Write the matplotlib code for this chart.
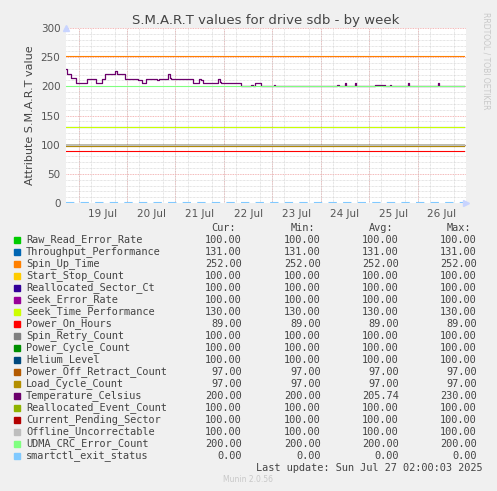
import matplotlib.pyplot as plt
import numpy as np

names = ["Raw_Read_Error_Rate", "Throughput_Performance", "Spin_Up_Time", "Start_Stop_Count",
         "Reallocated_Sector_Ct", "Seek_Error_Rate", "Seek_Time_Performance", "Power_On_Hours",
         "Spin_Retry_Count", "Power_Cycle_Count", "Helium_Level", "Power_Off_Retract_Count",
         "Load_Cycle_Count", "Temperature_Celsius", "Reallocated_Event_Count",
         "Current_Pending_Sector", "Offline_Uncorrectable", "UDMA_CRC_Error_Count",
         "smartctl_exit_status"]
colors = ["#00CC00", "#0066B3", "#FF8000", "#FFCC00", "#330099", "#990099", "#CCFF00", "#FF0000",
          "#808080", "#008F00", "#00487D", "#B35A00", "#B38F00", "#6B006B", "#8FB300",
          "#B30000", "#BEBEBE", "#80FF80", "#80C9FF"]
cur = [100, 131, 252, 100, 100, 100, 130, 89, 100, 100, 100, 97, 97, 200, 100, 100, 100, 200, 0]
mins = [100, 131, 252, 100, 100, 100, 130, 89, 100, 100, 100, 97, 97, 200, 100, 100, 100, 200, 0]
avgs = [100, 131, 252, 100, 100, 100, 130, 89, 100, 100, 100, 97, 97, 205.74, 100, 100, 100, 200, 0]
maxs = [100, 131, 252, 100, 100, 100, 130, 89, 100, 100, 100, 97, 97, 230, 100, 100, 100, 200, 0]

# temperature steps (x in image pixels -> converted to days below)
temp_px = [66, 67, 68, 71, 72, 76, 86, 87, 94, 96, 100, 102, 105, 112, 115, 117, 118, 124, 125,
           136, 138, 142, 145, 146, 156, 158, 160, 168, 169, 171, 172, 190, 194, 198, 200, 202,
           204, 218, 219, 221, 222, 240, 242, 251, 252, 254, 256, 258, 262, 274, 275, 276, 338,
           339, 341, 346, 347, 348, 356, 357, 358, 376, 377, 385, 386, 387, 391, 392, 393, 409,
           410, 411, 439, 440, 441, 466]
temp_vals = [230, 222, 222, 215, 215, 205, 205, 213, 213, 205, 205, 213, 222, 222, 226, 222, 222,
             222, 213, 213, 210, 205, 205, 213, 213, 210, 213, 213, 222, 215, 213, 213, 205, 205,
             213, 210, 205, 205, 213, 208, 205, 205, 200, 200, 203, 200, 205, 205, 200, 200, 203,
             200, 200, 203, 200, 200, 205, 200, 200, 205, 200, 200, 202, 200, 203, 200, 200, 203,
             200, 200, 205, 200, 200, 205, 200, 200]

day0 = 18.74
px_per_day = 48.7
xmax = day0 + 400 / px_per_day
temp_x = [day0 + (p - 66) / px_per_day for p in temp_px]

fig = plt.figure(figsize=(4.97, 4.91), dpi=100, facecolor="#F0F0F0")
ax = fig.add_axes([66 / 497, 1 - 203 / 491, 400 / 497, 175 / 491])
ax.set_facecolor("white")

for i, n in enumerate(names):
    if n == "Temperature_Celsius":
        ax.step(temp_x, temp_vals, where="post", color=colors[i], lw=0.9)
    elif n == "smartctl_exit_status":
        ax.plot([day0, xmax], [cur[i] + 0.8] * 2, color=colors[i], lw=1.5, ls=(0, (4, 3)))
    else:
        ax.plot([day0, xmax], [cur[i]] * 2, color=colors[i], lw=0.8)

ax.set_xlim(day0, xmax)
ax.set_ylim(0, 300)
ax.set_yticks(np.arange(0, 301, 50))
ax.set_yticks(np.arange(0, 301, 10), minor=True)
ax.set_xticks(np.arange(19, 27) + 0.5)
ax.set_xticklabels([f"{d} Jul" for d in range(19, 27)])
ax.set_xticks(np.arange(19, 27.1, 0.25), minor=True)
ax.grid(True, which="minor", color="#CCCCCC", ls=(0, (1, 1)), lw=0.5)
for d in range(19, 27):
    ax.axvline(d, color="#F0A0A0", ls=(0, (1, 1)), lw=0.6, zorder=0.5)
for y in range(0, 301, 50):
    ax.axhline(y, color="#F0A0A0", ls=(0, (1, 1)), lw=0.6, zorder=0.5)
ax.tick_params(which="both", length=0, labelsize=7.5, colors="#555555", pad=4)
for s in ax.spines.values():
    s.set_visible(False)
ax.plot([day0], [300], marker="^", color="#C8D4FF", ms=4, clip_on=False)
ax.plot([xmax + 0.05], [0], marker=">", color="#C8D4FF", ms=4, clip_on=False)
ax.set_title("S.M.A.R.T values for drive sdb - by week", fontsize=9.5, color="#444444", pad=3)
ax.set_ylabel("Attribute S.M.A.R.T value", fontsize=8, color="#444444")
fig.text(486 / 497, 1 - 12 / 491, "RRDTOOL / TOBI OETIKER", rotation=270, fontsize=5.5,
         color="#C8C8C8", ha="center", va="top")

mono = dict(family="DejaVu Sans Mono", fontsize=7.4, color="#444444")
hy = 1 - 228 / 491
for x, h in [(236, "Cur:"), (315, "Min:"), (393, "Avg:"), (471, "Max:")]:
    fig.text(x / 497, hy, h, ha="right", va="center", **mono)
for i, n in enumerate(names):
    y = 1 - (240 + 12 * i) / 491
    fig.patches.append(plt.Rectangle((14 / 497, y - 3 / 491), 6 / 497, 6 / 491,
                                     transform=fig.transFigure, color=colors[i]))
    fig.text(26 / 497, y, n, ha="left", va="center", **mono)
    for x, v in [(242, cur[i]), (321, mins[i]), (399, avgs[i]), (477, maxs[i])]:
        fig.text(x / 497, y, f"{v:.2f}", ha="right", va="center", **mono)
fig.text(483 / 497, 1 - 468 / 491, "Last update: Sun Jul 27 02:00:03 2025", ha="right",
         va="center", **mono)
fig.text(248 / 497, 1 - 480 / 491, "Munin 2.0.56", ha="center", va="center", fontsize=5.5,
         color="#C8C8C8")

fig.savefig("out.png", dpi=100, facecolor=fig.get_facecolor())
